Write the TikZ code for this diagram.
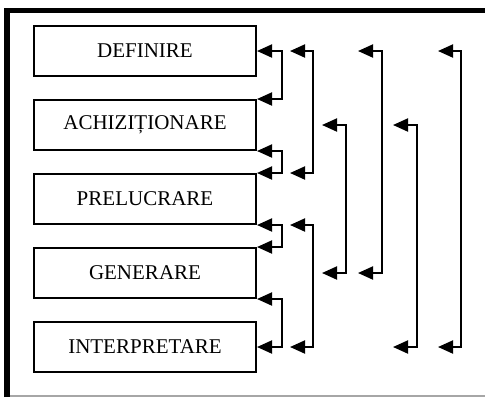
\documentclass[tikz,border=0pt]{standalone}
\usepackage{fontspec}
\setmainfont{Liberation Serif}
\usetikzlibrary{arrows.meta}

\tikzset{
  etapa/.style={draw, line width=1pt, minimum width=111pt, minimum height=25pt,
    inner sep=0pt, font=\fontsize{10.5pt}{12pt}\selectfont},
  dubla/.style={{Triangle[length=7.5pt,width=6.5pt]}-{Triangle[length=7.5pt,width=6.5pt]},
    line width=1pt},
}

\begin{document}
\begin{tikzpicture}[x=0.5pt, y=-0.5pt]
                \useasboundingbox (0,0) rectangle (485,397);

                % cadrul
                \draw[gray!70, line width=0.6pt] (7,396) -- (485,396);
                \draw[line width=2.8pt] (7,397) -- (7,10.5) -- (485,10.5);

                % etapele
                \node[etapa] (def) at (145,51) {DEFINIRE};
                \node[etapa] (ach) at (145,125) {ACHIZIȚIONARE};
                \node[etapa] (pre) at (145,199) {PRELUCRARE};
                \node[etapa] (gen) at (145,273) {GENERARE};
                \node[etapa] (int) at (145,347) {INTERPRETARE};

                % coloanele de legaturi
                \coordinate (xB) at (290,0);
                \coordinate (xC) at (322,0);
                \coordinate (xD) at (358,0);
                \coordinate (xE) at (393,0);
                \coordinate (xF) at (438,0);

                % legaturi intre etape vecine
                \draw[dubla] (def.east) -- ++(25,0) |- (ach.north east);
                \draw[dubla] (ach.south east) -- ++(25,0) |- (pre.north east);
                \draw[dubla] (pre.south east) -- ++(25,0) |- (gen.north east);
                \draw[dubla] (gen.south east) -- ++(25,0) |- (int.east);

                % legaturi peste etape
                \draw[dubla] (def.east -| xB) -- ++(23,0) |- (pre.north -| xB);
                \draw[dubla] (pre.south -| xB) -- ++(23,0) |- (int.east -| xB);
                \draw[dubla] (ach.east -| xC) -- ++(24,0) |- (gen.east -| xC);
                \draw[dubla] (def.east -| xD) -- ++(24,0) |- (gen.east -| xD);
                \draw[dubla] (ach.east -| xE) -- ++(24,0) |- (int.east -| xE);
                \draw[dubla] (def.east -| xF) -- ++(23,0) |- (int.east -| xF);
            \end{tikzpicture}
\end{document}
